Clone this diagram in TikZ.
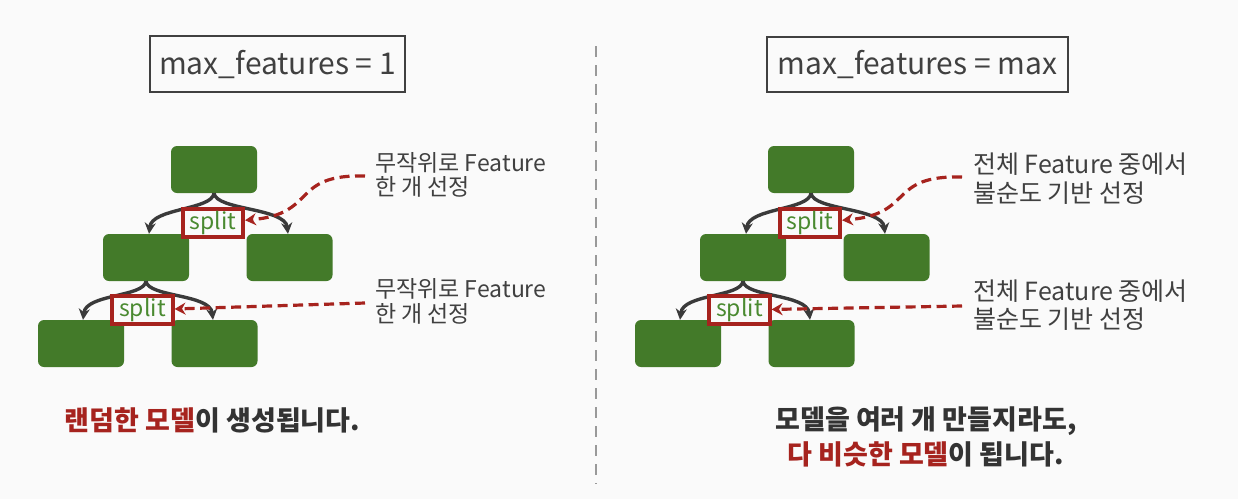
\documentclass[tikz,border=0pt]{standalone}
\usepackage{fontspec}
\setmainfont{Noto Sans CJK KR}
\usetikzlibrary{arrows.meta}
\definecolor{bgc}{HTML}{FAFAFA}
\definecolor{treegreen}{HTML}{437A29}
\definecolor{splitgreen}{HTML}{4A8A30}
\definecolor{annred}{HTML}{A6231E}
\definecolor{arrowgray}{HTML}{3A3A3A}
\definecolor{txtgray}{HTML}{404040}
\definecolor{dark}{HTML}{333333}
\newcommand{\fsz}[1]{\fontsize{#1}{#1}\selectfont}
\tikzset{
  leaf/.style={fill=treegreen, rounded corners=6pt, minimum width=86pt, minimum height=47pt, inner sep=0pt},
  splitbox/.style={draw=annred, line width=3.6pt, fill=bgc, minimum width=60.5pt, minimum height=28.5pt, inner sep=0pt, text=splitgreen, font=\fsz{23}},
  treearrow/.style={draw=arrowgray, line width=3.4pt, -{Stealth[length=11pt,width=11pt]}},
  annarrow/.style={draw=annred, line width=3.2pt, dash pattern=on 10pt off 5.5pt, -{Stealth[length=11pt,width=12pt]}},
  titlebox/.style={draw=txtgray, line width=1.6pt, text=txtgray, font=\fsz{30}, inner sep=0pt},
  anntxtL/.style={anchor=base west, inner sep=0pt, text=txtgray, font=\fsz{23}},
  anntxtR/.style={anchor=base west, inner sep=0pt, text=txtgray, font=\fsz{25}},
  bottomtxt/.style={inner sep=0pt, text=dark, font=\bfseries\fsz{27}},
}
\begin{document}
\begin{tikzpicture}[x=1pt,y=-1pt]
\fill[bgc] (0,0) rectangle (1238,499);
\useasboundingbox (0,0) rectangle (1238,499);

% divider
\draw[color=gray!80, line width=2.5pt, dash pattern=on 11pt off 8pt] (596,46) -- (596,484);

% ---------- left panel ----------
\node[titlebox, minimum width=255pt, minimum height=56pt] (tL) at (277.5,64) {max\_features = 1};

\node[leaf] (rootL) at (214,169.5) {};
\node[leaf] (c1L) at (146,257.5) {};
\node[leaf] (c2L) at (289.5,257.5) {};
\node[leaf] (c3L) at (81,343.5) {};
\node[leaf] (c4L) at (214.5,343.5) {};

\draw[treearrow] (rootL.south) .. controls +(-2,17) and +(3,-26) .. ([xshift=3pt]c1L.north);
\draw[treearrow] (rootL.south) .. controls +(2,17) and +(-3,-26) .. ([xshift=-1.5pt]c2L.north);
\draw[treearrow] (c1L.south) .. controls +(-2,16) and +(3,-26) .. ([xshift=2pt]c3L.north);
\draw[treearrow] (c1L.south) .. controls +(2,16) and +(-3,-26) .. ([xshift=-1.5pt]c4L.north);

\node[splitbox] (s1L) at (213,223) {split};
\node[splitbox] (s2L) at (142.5,310) {split};

\node[anntxtL] (a1L) at (375,171) {무작위로 Feature};
\node[anntxtL] (a1Lb) at (375,195.5) {한 개 선정};
\node[anntxtL] (a2L) at (375,297) {무작위로 Feature};
\node[anntxtL] (a2Lb) at (375,322) {한 개 선정};
\coordinate (p1L) at (365,176);
\coordinate (p2L) at (365,303);
\draw[annarrow] (p1L) .. controls (290,174) and (318,214) .. (s1L);
\draw[annarrow] (p2L) -- (s2L);

\node[bottomtxt] (bL) at (212.5,420) {\textcolor{annred}{랜덤한 모델}이 생성됩니다.};

% ---------- right panel ----------
\node[titlebox, minimum width=301pt, minimum height=55pt] (tR) at (917.5,64.5) {max\_features = max};

\node[leaf] (rootR) at (811,169.5) {};
\node[leaf] (c1R) at (743,257.5) {};
\node[leaf] (c2R) at (886.5,257.5) {};
\node[leaf] (c3R) at (678,343.5) {};
\node[leaf] (c4R) at (811.5,343.5) {};

\draw[treearrow] (rootR.south) .. controls +(-2,17) and +(3,-26) .. ([xshift=3pt]c1R.north);
\draw[treearrow] (rootR.south) .. controls +(2,17) and +(-3,-26) .. ([xshift=-1.5pt]c2R.north);
\draw[treearrow] (c1R.south) .. controls +(-2,16) and +(3,-26) .. ([xshift=2pt]c3R.north);
\draw[treearrow] (c1R.south) .. controls +(2,16) and +(-3,-26) .. ([xshift=-1.5pt]c4R.north);

\node[splitbox] (s1R) at (810,223) {split};
\node[splitbox] (s2R) at (739.5,310) {split};

\node[anntxtR] (a1R) at (973,173) {전체 Feature 중에서};
\node[anntxtR] (a1Rb) at (973,202) {불순도 기반 선정};
\node[anntxtR] (a2R) at (973,300) {전체 Feature 중에서};
\node[anntxtR] (a2Rb) at (973,328) {불순도 기반 선정};
\coordinate (p1R) at (962,177);
\coordinate (p2R) at (962,306);
\draw[annarrow] (p1R) .. controls (887,175) and (915,214) .. (s1R);
\draw[annarrow] (p2R) -- (s2R);

\node[bottomtxt] (bR1) at (926,421) {모델을 여러 개 만들지라도,};
\node[bottomtxt] (bR2) at (925.5,454) {\textcolor{annred}{다 비슷한 모델}이 됩니다.};
\end{tikzpicture}
\end{document}
